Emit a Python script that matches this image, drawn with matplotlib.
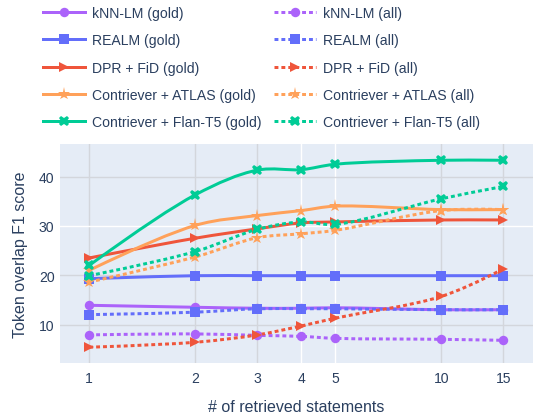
import matplotlib.pyplot as plt
import numpy as np
from matplotlib.path import Path
from matplotlib.patches import PathPatch
from matplotlib.lines import Line2D

plt.rcParams['font.family'] = ['Liberation Sans', 'DejaVu Sans']

# number of retrieved statements
k_values = [1, 2, 3, 4, 5, 10, 15]
x_tick_labels = ['1', '2', '3', '4', '5', '10', '15']
y_ticks = [10, 20, 30, 40]

# token overlap F1, gold vs all statements
knn_gold = [13.9, 13.5, 13.3, 13.3, 13.4, 13.0, 13.0]
knn_all = [7.9, 8.1, 7.8, 7.6, 7.2, 7.0, 6.8]
realm_gold = [19.3, 19.9, 19.9, 19.9, 19.9, 19.9, 19.9]
realm_all = [12.0, 12.5, 13.2, 13.2, 13.2, 13.0, 13.0]
dpr_gold = [23.5, 27.5, 29.4, 30.6, 30.8, 31.2, 31.2]
dpr_all = [5.4, 6.4, 7.9, 9.7, 11.3, 15.7, 21.3]
atlas_gold = [21.0, 30.1, 32.1, 33.1, 34.0, 33.3, 33.3]
atlas_all = [18.6, 23.7, 27.6, 28.4, 29.1, 33.1, 33.3]
flan_gold = [22.0, 36.3, 41.3, 41.4, 42.5, 43.3, 43.3]
flan_all = [19.9, 24.8, 29.3, 30.8, 30.3, 35.5, 38.0]

series = [
    ('kNN-LM', knn_gold, knn_all, '#ab63fa', 'o', 6.8),
    ('REALM', realm_gold, realm_all, '#636efa', 's', 6.8),
    ('DPR + FiD', dpr_gold, dpr_all, '#ef553b', '>', 6.8),
    ('Contriever + ATLAS', atlas_gold, atlas_all, '#ffa15a', '*', 9.5),
    ('Contriever + Flan-T5', flan_gold, flan_all, '#00cc96', 'X', 7.8),
]

text_color = '#2a3f5f'
px = 0.72  # points per pixel at dpi 100
lw = 3 * px
dot = (0, (1.3, 1.0))


def spline_path(ax, xs, ys, smoothing=1.0):
    # cardinal spline through the points, computed in pixel space
    pts = ax.transData.transform(np.column_stack([xs, ys]))
    n = len(pts)
    tangents = []
    for i in range(1, n - 1):
        p0, p1, p2 = pts[i - 1], pts[i], pts[i + 1]
        d1 = p0 - p1
        d2 = p2 - p1
        d1a = np.hypot(*d1) ** 0.5
        d2a = np.hypot(*d2) ** 0.5
        num = (d2a ** 2 * d1 - d1a ** 2 * d2) * smoothing
        den1 = 3 * d2a * (d1a + d2a)
        den2 = 3 * d1a * (d1a + d2a)
        tangents.append((p1 + num / den1, p1 - num / den2))
    verts = [pts[0], tangents[0][0], pts[1]]
    codes = [Path.MOVETO, Path.CURVE3, Path.CURVE3]
    for i in range(2, n - 1):
        verts += [tangents[i - 2][1], tangents[i - 1][0], pts[i]]
        codes += [Path.CURVE4] * 3
    verts += [tangents[n - 3][1], pts[n - 1]]
    codes += [Path.CURVE3] * 2
    data_verts = ax.transData.inverted().transform(np.array(verts))
    return Path(data_verts, codes)


fig = plt.figure(figsize=(5.33, 4.14), dpi=100)
ax = fig.add_axes([60 / 533, 50 / 414, 473 / 533, 219 / 414])
ax.set_facecolor('#e5ecf6')
ax.set_xscale('log')
ax.set_xlim(0.826, 18.2)
ax.set_ylim(2.2, 46.6)

ax.set_xticks(k_values)
ax.set_xticklabels(x_tick_labels)
ax.xaxis.set_minor_locator(plt.NullLocator())
ax.set_yticks(y_ticks)
for s in ax.spines.values():
    s.set_visible(False)
ax.tick_params(length=0, labelsize=10.1, colors=text_color)
ax.tick_params(axis='x', pad=6)
ax.tick_params(axis='y', pad=4)
ax.grid(True, color='white', lw=1.0)
ax.set_axisbelow(True)

# some grid lines render in a light grey
grey_x = [1, 2, 3, 10, 15]
grey_y = [10, 20, 40]
for loc, gl in zip(ax.get_xticks(), ax.get_xgridlines()):
    if loc in grey_x:
        gl.set_color('#d3d6dc')
for loc, gl in zip(ax.get_yticks(), ax.get_ygridlines()):
    if loc in grey_y:
        gl.set_color('#d3d6dc')

gold_handles, all_handles = [], []
gold_labels, all_labels = [], []
for name, gold, allv, color, marker, ms in series:
    for vals, ls in ((gold, '-'), (allv, dot)):
        patch = PathPatch(spline_path(ax, k_values, vals), fill=False,
                          edgecolor=color, lw=lw, linestyle=ls,
                          joinstyle='round')
        ax.add_patch(patch)
        ax.plot(k_values, vals, linestyle='none', marker=marker,
                markersize=ms, color=color, markeredgewidth=0)
    gold_handles.append(Line2D([], [], color=color, lw=lw, ls='-',
                               marker=marker, markersize=ms, markeredgewidth=0))
    all_handles.append(Line2D([], [], color=color, lw=lw, ls=dot,
                              marker=marker, markersize=ms, markeredgewidth=0))
    gold_labels.append(f'{name} (gold)')
    all_labels.append(f'{name} (all)')

ax.set_xlabel('# of retrieved statements', fontsize=11.5, color=text_color,
              labelpad=10)
ax.set_ylabel('Token overlap F1 score', fontsize=11.5, color=text_color,
              labelpad=8)

fig.legend(gold_handles + all_handles, gold_labels + all_labels, ncol=2,
           loc='upper left', bbox_to_anchor=(43 / 533, 0.983), frameon=False,
           fontsize=10.1, handlelength=3.0, handletextpad=0.5,
           columnspacing=0.9, labelspacing=0.95, borderpad=0,
           borderaxespad=0, labelcolor=text_color)

fig.savefig('out.png', dpi=100)
